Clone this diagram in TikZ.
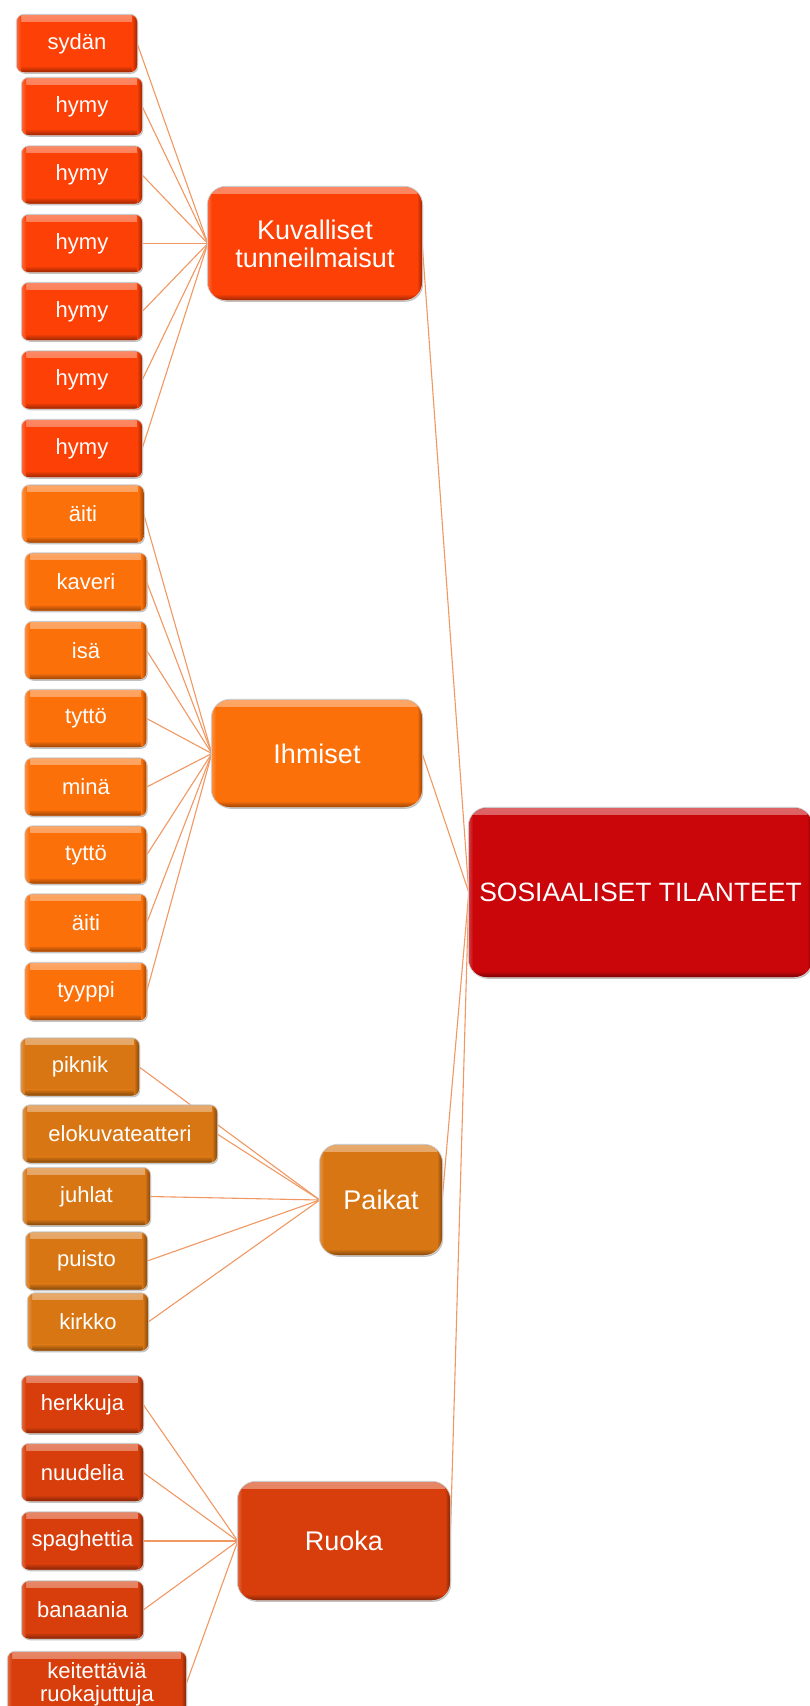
\documentclass[tikz,border=0pt]{standalone}
\usepackage{fontspec}
\setmainfont{Liberation Sans}
\usetikzlibrary{shadows}
\pgfdeclarelayer{bg}
\pgfdeclarelayer{links}
\pgfsetlayers{bg,links,main}
% palette
\definecolor{cKuva}{RGB}{252,64,6}
\definecolor{cIhm}{RGB}{252,112,10}
\definecolor{cPaik}{RGB}{216,118,20}
\definecolor{cRuo}{RGB}{216,62,12}
\definecolor{cRoot}{RGB}{202,6,10}
\definecolor{linkc}{RGB}{241,152,98}
\tikzset{
  box/.style={rectangle, inner sep=0pt, text=white, align=center, fill=#1,
    drop shadow={shadow xshift=1.2pt, shadow yshift=-1.8pt, opacity=0.35, fill=black!70},
    preaction={draw=black!20, line width=2.2pt},
    path picture={
      \shade[sharp corners, top color=#1!62!white, bottom color=#1]
        (path picture bounding box.north west) rectangle ([yshift=-6pt]path picture bounding box.north east);
      \shade[sharp corners, top color=#1, bottom color=#1!62!black]
        ([yshift=6pt]path picture bounding box.south west) rectangle (path picture bounding box.south east);
      \shade[sharp corners, left color=#1, right color=#1!62!black]
        ([xshift=-5pt]path picture bounding box.north east) rectangle (path picture bounding box.south east);
      \shade[sharp corners, left color=#1!80!white, right color=#1]
        (path picture bounding box.north west) rectangle ([xshift=4pt]path picture bounding box.south west);
    }},
  leaf/.style={box=#1, minimum height=57pt, rounded corners=7pt,
    font=\fontsize{22}{24}\selectfont},
  hub/.style={box=#1, rounded corners=18pt,
    font=\fontsize{27}{28}\selectfont},
  link/.style={draw=linkc, line width=1.1pt}
}
\begin{document}
\begin{tikzpicture}[x=1pt, y=-1pt]
\useasboundingbox (0,0) rectangle (810,1706);
\begin{pgfonlayer}{bg}
  \fill[white] (0,0) rectangle (810,1706);
\end{pgfonlayer}

% central topic
\node[hub=cRoot, minimum width=343pt, minimum height=169pt, font=\fontsize{26.5}{28}\selectfont]
  (root) at (640.5,892.5) {SOSIAALISET TILANTEET};

% Kuvalliset tunneilmaisut
\node[hub=cKuva, minimum width=214pt, minimum height=113pt] (kuva) at (315,243.5) {Kuvalliset\\tunneilmaisut};
\node[leaf=cKuva, minimum width=120pt] (k0) at (77,43.5) {sydän};
\node[leaf=cKuva, minimum width=120pt] (k1) at (82,106.5) {hymy};
\node[leaf=cKuva, minimum width=120pt] (k2) at (82,175) {hymy};
\node[leaf=cKuva, minimum width=120pt] (k3) at (82,243.5) {hymy};
\node[leaf=cKuva, minimum width=120pt] (k4) at (82,311.5) {hymy};
\node[leaf=cKuva, minimum width=120pt] (k5) at (82,380) {hymy};
\node[leaf=cKuva, minimum width=120pt] (k6) at (82,448.5) {hymy};

% Ihmiset
\node[hub=cIhm, minimum width=210pt, minimum height=107pt] (ihm) at (317,753.5) {Ihmiset};
\node[leaf=cIhm, minimum width=121pt] (i0) at (83,514) {äiti};
\node[leaf=cIhm, minimum width=121pt] (i1) at (86,582) {kaveri};
\node[leaf=cIhm, minimum width=121pt] (i2) at (86,650.5) {isä};
\node[leaf=cIhm, minimum width=121pt] (i3) at (86,718.5) {tyttö};
\node[leaf=cIhm, minimum width=121pt] (i4) at (86,787) {minä};
\node[leaf=cIhm, minimum width=121pt] (i5) at (86,855) {tyttö};
\node[leaf=cIhm, minimum width=121pt] (i6) at (86,923) {äiti};
\node[leaf=cIhm, minimum width=121pt] (i7) at (86,991.5) {tyyppi};

% Paikat
\node[hub=cPaik, minimum width=122pt, minimum height=110pt] (paik) at (381,1200) {Paikat};
\node[leaf=cPaik, minimum width=118pt] (p0) at (80,1067) {piknik};
\node[leaf=cPaik, minimum width=194pt] (p1) at (120,1134) {elokuvateatteri};
\node[leaf=cPaik, minimum width=127pt] (p2) at (86.5,1196.5) {juhlat};
\node[leaf=cPaik, minimum width=121pt] (p3) at (86.5,1261) {puisto};
\node[leaf=cPaik, minimum width=120pt] (p4) at (88,1322) {kirkko};

% Ruoka
\node[hub=cRuo, minimum width=212pt, minimum height=118pt] (ruo) at (344,1541) {Ruoka};
\node[leaf=cRuo, minimum width=121pt] (r0) at (82.5,1404.5) {herkkuja};
\node[leaf=cRuo, minimum width=121pt] (r1) at (82.5,1472.5) {nuudelia};
\node[leaf=cRuo, minimum width=121pt] (r2) at (82.5,1541) {spaghettia};
\node[leaf=cRuo, minimum width=121pt] (r3) at (82.5,1610) {banaania};
\node[leaf=cRuo, minimum width=178pt, minimum height=64pt, font=\fontsize{22}{23}\selectfont]
  (r4) at (97,1684) {keitettäviä\\ruokajuttuja};

% connectors, kept behind the boxes
\begin{pgfonlayer}{links}
  \foreach \h in {kuva,ihm,paik,ruo} \draw[link] (\h.east) -- (root.west);
  \foreach \n in {k0,k1,k2,k3,k4,k5,k6} \draw[link] (\n.east) -- (kuva.west);
  \foreach \n in {i0,i1,i2,i3,i4,i5,i6,i7} \draw[link] (\n.east) -- (ihm.west);
  \foreach \n in {p0,p1,p2,p3,p4} \draw[link] (\n.east) -- (paik.west);
  \foreach \n in {r0,r1,r2,r3,r4} \draw[link] (\n.east) -- (ruo.west);
\end{pgfonlayer}
\end{tikzpicture}
\end{document}
